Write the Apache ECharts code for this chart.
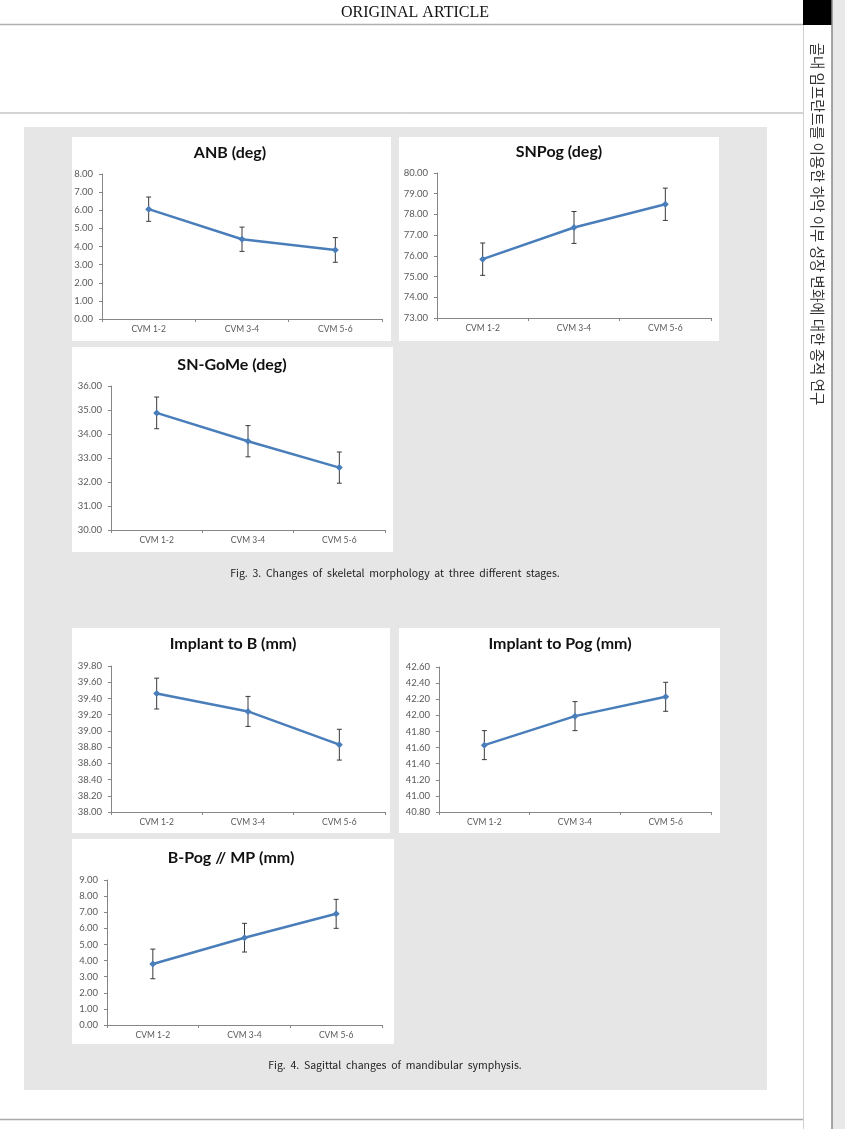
<!DOCTYPE html>
<html>
<head>
<meta charset="utf-8">
<script src="https://cdn.jsdelivr.net/npm/echarts@6/dist/echarts.min.js"></script>
<style>
html,body{margin:0;padding:0;background:#fff;}
#page{width:845px;height:1129px;}
</style>
</head>
<body>
<div id="page"></div>
<script>
// stages on the x axis
var stages = ['CVM 1-2', 'CVM 3-4', 'CVM 5-6'];

// Fig. 3 - skeletal morphology (mean, error)
var anbMean = [6.06, 4.40, 3.81];
var anbErr = [0.67, 0.67, 0.68];
var snpogMean = [75.84, 77.37, 78.49];
var snpogErr = [0.78, 0.77, 0.78];
var sngomeMean = [34.88, 33.70, 32.60];
var sngomeErr = [0.66, 0.65, 0.65];

// Fig. 4 - mandibular symphysis (mean, error)
var implBMean = [39.46, 39.24, 38.83];
var implBErr = [0.19, 0.185, 0.19];
var implPogMean = [41.63, 41.99, 42.23];
var implPogErr = [0.18, 0.18, 0.18];
var bpogMean = [3.79, 5.42, 6.90];
var bpogErr = [0.92, 0.89, 0.90];

var panels = [
  {title: 'ANB (deg)', mean: anbMean, err: anbErr, min: 0, max: 8, step: 1,
   box: [72, 137, 319, 204], tpos: [230, 153], grid: {left: 102, top: 174, width: 280, height: 145}},
  {title: 'SNPog (deg)', mean: snpogMean, err: snpogErr, min: 73, max: 80, step: 1,
   box: [399, 137, 320, 204], tpos: [559, 152], grid: {left: 437, top: 173, width: 274, height: 145}},
  {title: 'SN-GoMe (deg)', mean: sngomeMean, err: sngomeErr, min: 30, max: 36, step: 1,
   box: [72, 347, 321, 205], tpos: [232, 365], grid: {left: 111, top: 386, width: 274, height: 144}},
  {title: 'Implant to B (mm)', mean: implBMean, err: implBErr, min: 38, max: 39.8, step: 0.2,
   box: [72, 628, 318, 205], tpos: [233, 644], grid: {left: 111, top: 666, width: 274, height: 146}},
  {title: 'Implant to Pog (mm)', mean: implPogMean, err: implPogErr, min: 40.8, max: 42.6, step: 0.2,
   box: [399, 628, 321, 205], tpos: [560, 644], grid: {left: 439, top: 667, width: 272, height: 145}},
  {title: 'B-Pog // MP (mm)', mean: bpogMean, err: bpogErr, min: 0, max: 9, step: 1,
   box: [72, 839, 322, 205], tpos: [231, 858], grid: {left: 107, top: 880, width: 275, height: 145}}
];

var axisGray = '#868686';
var labelGray = '#595959';
var lineBlue = '#4a7ebb';

var grids = [], xAxes = [], yAxes = [], series = [];
var graphics = [
  // page decoration
  {type: 'rect', shape: {x: 832, y: 0, width: 13, height: 1129}, style: {fill: '#e9e9e9'}, z: 0},
  {type: 'rect', shape: {x: 803, y: 0, width: 29, height: 25}, style: {fill: '#000'}, z: 0},
  {type: 'line', shape: {x1: 832, y1: 0, x2: 832, y2: 1129}, style: {stroke: '#8a8a8a', lineWidth: 1.5}, z: 0},
  {type: 'line', shape: {x1: 803.5, y1: 25, x2: 803.5, y2: 1129}, style: {stroke: '#d0d0d0', lineWidth: 1}, z: 0},
  {type: 'line', shape: {x1: 0, y1: 24.5, x2: 803, y2: 24.5}, style: {stroke: '#b0b0b0', lineWidth: 1.5}, z: 0},
  {type: 'line', shape: {x1: 0, y1: 113, x2: 803, y2: 113}, style: {stroke: '#a8a8a8', lineWidth: 1}, z: 0},
  {type: 'line', shape: {x1: 0, y1: 1119.5, x2: 803, y2: 1119.5}, style: {stroke: '#aaaaaa', lineWidth: 1.5}, z: 0},
  {type: 'text', x: 415, y: 13, z: 1,
   style: {text: 'ORIGINAL ARTICLE', fill: '#111', font: '16px "Liberation Serif", serif', align: 'center', verticalAlign: 'middle'}},
  {type: 'text', x: 818, y: 224, rotation: -Math.PI / 2, z: 1,
   style: {text: '골내 임프란트를 이용한 하악 이부 성장 변화에 대한 종적 연구', fill: '#333',
           font: '14.5px "Noto Sans CJK KR"', align: 'center', verticalAlign: 'middle'}},
  {type: 'rect', shape: {x: 24, y: 127, width: 743, height: 963}, style: {fill: '#e6e6e6'}, z: 0},
  {type: 'text', x: 395, y: 573, z: 1,
   style: {text: 'Fig.  3.  Changes  of  skeletal  morphology  at  three  different  stages.', fill: '#222',
           font: '10.5px "Noto Sans CJK KR"', align: 'center', verticalAlign: 'middle'}},
  {type: 'text', x: 395, y: 1065, z: 1,
   style: {text: 'Fig.  4.  Sagittal  changes  of  mandibular  symphysis.', fill: '#222',
           font: '10.5px "Noto Sans CJK KR"', align: 'center', verticalAlign: 'middle'}}
];

panels.forEach(function (p, i) {
  graphics.push({type: 'rect', shape: {x: p.box[0], y: p.box[1], width: p.box[2], height: p.box[3]},
                 style: {fill: '#fff'}, z: 0});
  graphics.push({type: 'text', x: p.tpos[0], y: p.tpos[1], z: 1,
                 style: {text: p.title, fill: '#111', font: 'bold 16px Lato', align: 'center', verticalAlign: 'middle'}});

  grids.push(p.grid);
  xAxes.push({
    type: 'category', gridIndex: i, data: stages, boundaryGap: true, z: 3,
    axisLine: {lineStyle: {color: axisGray, width: 1}},
    axisTick: {show: true, length: 3, alignWithLabel: false, lineStyle: {color: axisGray}},
    axisLabel: {color: labelGray, fontFamily: 'Lato', fontSize: 8.5, margin: 6},
    splitLine: {show: false}
  });
  yAxes.push({
    type: 'value', gridIndex: i, min: p.min, max: p.max, interval: p.step, z: 3,
    axisLine: {show: true, lineStyle: {color: axisGray, width: 1}},
    axisTick: {show: true, length: 3, lineStyle: {color: axisGray}},
    axisLabel: {color: labelGray, fontFamily: 'Lato', fontSize: 9.5, margin: 9,
                formatter: function (v) { return v.toFixed(2); }},
    splitLine: {show: false}
  });

  series.push({
    type: 'custom', xAxisIndex: i, yAxisIndex: i, z: 3,
    data: p.mean.map(function (m, k) { return [k, m - p.err[k], m + p.err[k]]; }),
    encode: {x: 0, y: [1, 2]},
    renderItem: function (params, api) {
      var lo = api.coord([api.value(0), api.value(1)]);
      var hi = api.coord([api.value(0), api.value(2)]);
      var c = 2.5;
      var st = {stroke: '#3a3a3a', lineWidth: 1};
      return {type: 'group', children: [
        {type: 'line', shape: {x1: hi[0], y1: hi[1], x2: lo[0], y2: lo[1]}, style: st},
        {type: 'line', shape: {x1: hi[0] - c, y1: hi[1], x2: hi[0] + c, y2: hi[1]}, style: st},
        {type: 'line', shape: {x1: lo[0] - c, y1: lo[1], x2: lo[0] + c, y2: lo[1]}, style: st}
      ]};
    },
    animation: false
  });
  series.push({
    type: 'line', xAxisIndex: i, yAxisIndex: i, z: 4,
    data: p.mean,
    symbol: 'diamond', symbolSize: 7, showSymbol: true,
    lineStyle: {color: lineBlue, width: 2.5},
    itemStyle: {color: lineBlue},
    animation: false
  });
});

var chart = echarts.init(document.getElementById('page'), null, {renderer: 'canvas'});
chart.setOption({
  backgroundColor: '#fff',
  animation: false,
  graphic: graphics,
  grid: grids,
  xAxis: xAxes,
  yAxis: yAxes,
  series: series
});
</script>
</body>
</html>
